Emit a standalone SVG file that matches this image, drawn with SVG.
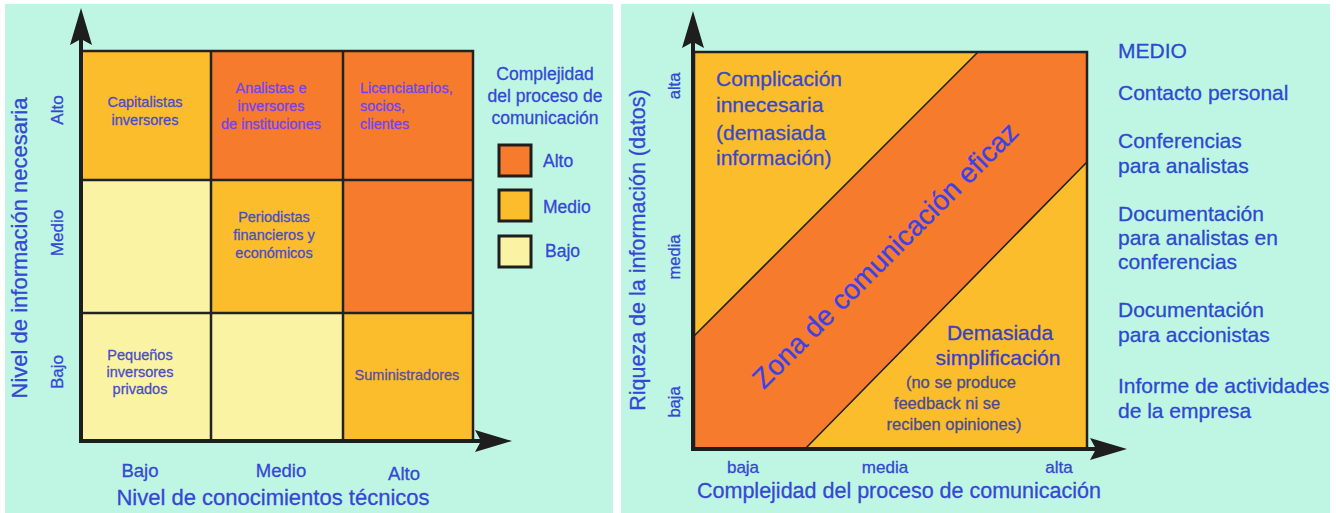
<svg xmlns="http://www.w3.org/2000/svg" width="1336" height="513" viewBox="0 0 1336 513">
<style>
text{font-family:"Liberation Sans",Arial,sans-serif;stroke-width:0.3px}
.bg{fill:#bff5e3}
.alto{fill:#f77b2c}
.medio{fill:#fbbd2c}
.bajo{fill:#faf3a3}
.grid{fill:none;stroke:#222;stroke-width:2.5}
.ax{stroke:#1e1e1e;stroke-width:4;fill:none}
.lab{fill:#3448d4;stroke:#3448d4}
.cell{font-size:14.5px;text-anchor:middle}
.c1{fill:#4a4ec4;stroke:#4a4ec4}
.c2{fill:#7244ee;stroke:#7244ee}
.c3{fill:#5a4f9c;stroke:#5a4f9c}
.mid{text-anchor:middle}
.leg{stroke:#1e1e1e;stroke-width:3}
.list{font-size:21px;fill:#2c4ad0;stroke:#2c4ad0}
</style>
<defs>
<marker id="ah" viewBox="-40 -13 42 26" refX="-31" refY="0" markerWidth="42" markerHeight="26" markerUnits="userSpaceOnUse" orient="auto">
<path d="M0,0 L-37,-11 L-31,0 L-37,11 Z" fill="#1e1e1e"/>
</marker>
</defs>
<rect width="1336" height="513" fill="#ffffff"/>
<rect class="bg" x="5" y="4" width="608" height="509"/>
<rect class="bg" x="621" y="4" width="709" height="509"/>

<g id="left-grid">
<g id="cell-capitalistas"><rect class="medio" x="82" y="51" width="129" height="129"/>
<text class="cell c1"><tspan x="145" y="107">Capitalistas</tspan><tspan x="145" y="125">inversores</tspan></text></g>
<g id="cell-analistas"><rect class="alto" x="211" y="51" width="132" height="129"/>
<text class="cell c2"><tspan x="271" y="93">Analistas e</tspan><tspan x="271" y="111">inversores</tspan><tspan x="271" y="129">de instituciones</tspan></text></g>
<g id="cell-licenciatarios"><rect class="alto" x="343" y="51" width="130" height="129"/>
<text class="c2" font-size="14.5"><tspan x="360" y="93">Licenciatarios,</tspan><tspan x="360" y="111">socios,</tspan><tspan x="360" y="129">clientes</tspan></text></g>
<g id="cell-r2c1"><rect class="bajo" x="82" y="180" width="129" height="133"/></g>
<g id="cell-periodistas"><rect class="medio" x="211" y="180" width="132" height="133"/>
<text class="cell c1"><tspan x="274" y="222">Periodistas</tspan><tspan x="274" y="240">financieros y</tspan><tspan x="274" y="258">económicos</tspan></text></g>
<g id="cell-r2c3"><rect class="alto" x="343" y="180" width="130" height="133"/></g>
<g id="cell-pequenos"><rect class="bajo" x="82" y="313" width="129" height="128"/>
<text class="cell c1"><tspan x="140" y="360">Pequeños</tspan><tspan x="140" y="377">inversores</tspan><tspan x="140" y="394">privados</tspan></text></g>
<g id="cell-r3c2"><rect class="bajo" x="211" y="313" width="132" height="128"/></g>
<g id="cell-suministradores"><rect class="medio" x="343" y="313" width="130" height="128"/>
<text class="cell c3"><tspan x="407" y="380">Suministradores</tspan></text></g>
<path class="grid" d="M82,51 H473 V441 M211,51 V441 M343,51 V441 M82,180 H473 M82,313 H473"/>
</g>

<g id="left-labels">
<text class="lab mid" font-size="22" transform="translate(27,248) rotate(-90)">Nivel de información necesaria</text>
<text class="lab mid" font-size="17" transform="translate(63,110) rotate(-90)">Alto</text>
<text class="lab mid" font-size="17" transform="translate(63,233) rotate(-90)">Medio</text>
<text class="lab mid" font-size="17" transform="translate(63,372) rotate(-90)">Bajo</text>
<text class="lab mid" font-size="18.5" x="140" y="477">Bajo</text>
<text class="lab mid" font-size="18.5" x="281" y="477">Medio</text>
<text class="lab mid" font-size="18.5" x="404" y="480">Alto</text>
<text class="lab mid" font-size="22" x="273" y="505">Nivel de conocimientos técnicos</text>
</g>

<g id="legend">
<text class="lab mid" font-size="17.5"><tspan x="545" y="80">Complejidad</tspan><tspan x="545" y="102">del proceso de</tspan><tspan x="545" y="124">comunicación</tspan></text>
<g id="legend-alto"><rect class="alto leg" x="499" y="145" width="32" height="31"/><text class="lab" font-size="17.5" x="543" y="167">Alto</text></g>
<g id="legend-medio"><rect class="medio leg" x="499" y="190" width="32" height="31"/><text class="lab" font-size="17.5" x="543" y="213">Medio</text></g>
<g id="legend-bajo"><rect class="bajo leg" x="499" y="236" width="32" height="31"/><text class="lab" font-size="17.5" x="545" y="257">Bajo</text></g>
</g>

<g id="right-chart">
<rect class="medio" x="694" y="52" width="393" height="397"/>
<polygon id="zona" class="alto" points="978,52 1087,52 1087,162 805,449 694,449 694,336"/>
<path d="M978,52 L694,336 M1087,162 L805,449" stroke="#222" stroke-width="1.6" fill="none"/>
<rect x="694" y="52" width="393" height="397" fill="none" stroke="#222" stroke-width="2.5"/>
<g id="complicacion"><text font-size="21" fill="#3a48c8" stroke="#3a48c8"><tspan x="716" y="86">Complicación</tspan><tspan x="716" y="112">innecesaria</tspan><tspan x="716" y="140">(demasiada</tspan><tspan x="716" y="165">información)</tspan></text></g>
<text font-size="28" fill="#3b42e6" stroke="#3b42e6" text-anchor="middle" transform="translate(892,262) rotate(-45)">Zona de comunicación eficaz</text>
<g id="simplificacion"><text font-size="21" fill="#3a40c2" stroke="#3a40c2" text-anchor="middle"><tspan x="1000" y="340">Demasiada</tspan><tspan x="998" y="365">simplificación</tspan></text>
<text font-size="16.5" fill="#4a4a94" stroke="#4a4a94" text-anchor="middle"><tspan x="961" y="388">(no se produce</tspan><tspan x="947" y="409">feedback ni se</tspan><tspan x="954" y="430">reciben opiniones)</tspan></text></g>
</g>

<g id="right-labels">
<text class="lab mid" font-size="21.5" transform="translate(645,250) rotate(-90)">Riqueza de la información (datos)</text>
<text class="lab mid" font-size="16.5" transform="translate(680,86) rotate(-90)">alta</text>
<text class="lab mid" font-size="16.5" transform="translate(680,257) rotate(-90)">media</text>
<text class="lab mid" font-size="16.5" transform="translate(680,402) rotate(-90)">baja</text>
<text class="lab mid" font-size="17" x="743" y="473">baja</text>
<text class="lab mid" font-size="17" x="885" y="473">media</text>
<text class="lab mid" font-size="17" x="1059" y="473">alta</text>
<text class="lab" font-size="21.5" x="697" y="498">Complejidad del proceso de comunicación</text>
</g>

<g id="medio-list">
<text class="list" x="1118" y="58">MEDIO</text>
<text class="list" x="1118" y="100">Contacto personal</text>
<text class="list"><tspan x="1118" y="148">Conferencias</tspan><tspan x="1118" y="173">para analistas</tspan></text>
<text class="list"><tspan x="1118" y="221">Documentación</tspan><tspan x="1118" y="245">para analistas en</tspan><tspan x="1118" y="269">conferencias</tspan></text>
<text class="list"><tspan x="1118" y="317">Documentación</tspan><tspan x="1118" y="342">para accionistas</tspan></text>
<text class="list"><tspan x="1118" y="393">Informe de actividades</tspan><tspan x="1118" y="418">de la empresa</tspan></text>
</g>

<g id="connectors">
<path class="ax" d="M81,443 V39" marker-end="url(#ah)"/>
<path class="ax" d="M79,441 H481" marker-end="url(#ah)"/>
<path class="ax" d="M693,451 V42" marker-end="url(#ah)"/>
<path class="ax" d="M691,449 H1096" marker-end="url(#ah)"/>
</g>
</svg>
